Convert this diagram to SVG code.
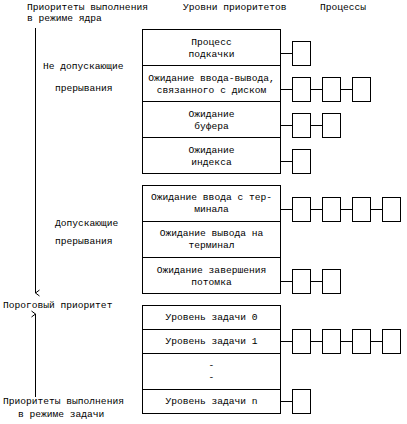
<svg xmlns="http://www.w3.org/2000/svg" width="407" height="424" viewBox="0 0 407 424">
<defs>
<style>
text{font-family:"Liberation Mono","DejaVu Sans Mono",monospace;font-size:9.6px;fill:#000}
.c{text-anchor:middle}
.b{fill:#fff;stroke:#000;stroke-width:1}
.l{stroke:#000;stroke-width:1;fill:none}
</style>
<marker id="ah" markerWidth="8" markerHeight="8" refX="4" refY="7" orient="auto-start-reverse" markerUnits="userSpaceOnUse" viewBox="0 0 8 8">
<polyline points="1,3 4,7 7,3" fill="none" stroke="#000" stroke-width="1"/>
</marker>
</defs>
<rect width="407" height="424" fill="#fff"/>
<g id="headers">
<text x="27" y="10">Приоритеты выполнения</text>
<text x="27" y="21">в режиме ядра</text>
<text x="183" y="10">Уровни приоритетов</text>
<text x="320" y="10">Процессы</text>
</g>
<g id="left-labels">
<text x="43" y="69">Не допускающие</text>
<text x="55" y="91">прерывания</text>
<text x="55" y="226">Допускающие</text>
<text x="55" y="244">прерывания</text>
<text x="3" y="308">Пороговый приоритет</text>
<text x="3" y="404">Приоритеты выполнения</text>
<text x="18" y="417">в режиме задачи</text>
</g>
<g id="connectors">
<line class="l" x1="35.5" y1="28" x2="35.5" y2="293" marker-end="url(#ah)"/>
<line class="l" x1="35.5" y1="397" x2="35.5" y2="314" marker-end="url(#ah)"/>
<line class="l" x1="280.5" y1="53.5" x2="292.5" y2="53.5"/>
<line class="l" x1="280.5" y1="89.5" x2="292.5" y2="89.5"/>
<line class="l" x1="310.5" y1="89.5" x2="322.5" y2="89.5"/>
<line class="l" x1="340.5" y1="89.5" x2="352.5" y2="89.5"/>
<line class="l" x1="280.5" y1="125.5" x2="292.5" y2="125.5"/>
<line class="l" x1="310.5" y1="125.5" x2="322.5" y2="125.5"/>
<line class="l" x1="280.5" y1="161.5" x2="292.5" y2="161.5"/>
<line class="l" x1="280.5" y1="209.5" x2="292.5" y2="209.5"/>
<line class="l" x1="310.5" y1="209.5" x2="322.5" y2="209.5"/>
<line class="l" x1="340.5" y1="209.5" x2="352.5" y2="209.5"/>
<line class="l" x1="370.5" y1="209.5" x2="382.5" y2="209.5"/>
<line class="l" x1="280.5" y1="281.5" x2="292.5" y2="281.5"/>
<line class="l" x1="310.5" y1="281.5" x2="322.5" y2="281.5"/>
<line class="l" x1="280.5" y1="341.5" x2="292.5" y2="341.5"/>
<line class="l" x1="310.5" y1="341.5" x2="322.5" y2="341.5"/>
<line class="l" x1="340.5" y1="341.5" x2="352.5" y2="341.5"/>
<line class="l" x1="370.5" y1="341.5" x2="382.5" y2="341.5"/>
<line class="l" x1="280.5" y1="401.5" x2="292.5" y2="401.5"/>
</g>
<g id="level-swap">
<rect class="b" x="142.5" y="29.5" width="138" height="36"/>
<text class="c" x="211.5" y="45">Процесс</text>
<text class="c" x="211.5" y="57">подкачки</text>
</g>
<g id="level-disk-io">
<rect class="b" x="142.5" y="65.5" width="138" height="36"/>
<text class="c" x="211.5" y="81">Ожидание ввода-вывода,</text>
<text class="c" x="211.5" y="93">связанного с диском</text>
</g>
<g id="level-buffer">
<rect class="b" x="142.5" y="101.5" width="138" height="36"/>
<text class="c" x="211.5" y="117">Ожидание</text>
<text class="c" x="211.5" y="129">буфера</text>
</g>
<g id="level-inode">
<rect class="b" x="142.5" y="137.5" width="138" height="36"/>
<text class="c" x="211.5" y="153">Ожидание</text>
<text class="c" x="211.5" y="165">индекса</text>
</g>
<g id="level-tty-in">
<rect class="b" x="142.5" y="185.5" width="138" height="36"/>
<text class="c" x="211.5" y="200">Ожидание ввода с тер-</text>
<text class="c" x="211.5" y="212">минала</text>
</g>
<g id="level-tty-out">
<rect class="b" x="142.5" y="221.5" width="138" height="36"/>
<text class="c" x="211.5" y="236">Ожидание вывода на</text>
<text class="c" x="211.5" y="248">терминал</text>
</g>
<g id="level-child">
<rect class="b" x="142.5" y="257.5" width="138" height="36"/>
<text class="c" x="211.5" y="273">Ожидание завершения</text>
<text class="c" x="211.5" y="285">потомка</text>
</g>
<g id="level-user0">
<rect class="b" x="142.5" y="305.5" width="138" height="24"/>
<text class="c" x="211.5" y="320">Уровень задачи 0</text>
</g>
<g id="level-user1">
<rect class="b" x="142.5" y="329.5" width="138" height="24"/>
<text class="c" x="211.5" y="344">Уровень задачи 1</text>
</g>
<g id="level-dots">
<rect class="b" x="142.5" y="353.5" width="138" height="36"/>
<text class="c" x="211.5" y="368">-</text>
<text class="c" x="211.5" y="380">-</text>
</g>
<g id="level-usern">
<rect class="b" x="142.5" y="389.5" width="138" height="24"/>
<text class="c" x="211.5" y="404">Уровень задачи n</text>
</g>
<g id="processes">
<rect class="b" x="292.5" y="41.5" width="18" height="24"/>
<rect class="b" x="292.5" y="77.5" width="18" height="24"/>
<rect class="b" x="322.5" y="77.5" width="18" height="24"/>
<rect class="b" x="352.5" y="77.5" width="18" height="24"/>
<rect class="b" x="292.5" y="113.5" width="18" height="24"/>
<rect class="b" x="322.5" y="113.5" width="18" height="24"/>
<rect class="b" x="292.5" y="149.5" width="18" height="24"/>
<rect class="b" x="292.5" y="197.5" width="18" height="24"/>
<rect class="b" x="322.5" y="197.5" width="18" height="24"/>
<rect class="b" x="352.5" y="197.5" width="18" height="24"/>
<rect class="b" x="382.5" y="197.5" width="18" height="24"/>
<rect class="b" x="292.5" y="269.5" width="18" height="24"/>
<rect class="b" x="322.5" y="269.5" width="18" height="24"/>
<rect class="b" x="292.5" y="329.5" width="18" height="24"/>
<rect class="b" x="322.5" y="329.5" width="18" height="24"/>
<rect class="b" x="352.5" y="329.5" width="18" height="24"/>
<rect class="b" x="382.5" y="329.5" width="18" height="24"/>
<rect class="b" x="292.5" y="389.5" width="18" height="24"/>
</g>
</svg>
